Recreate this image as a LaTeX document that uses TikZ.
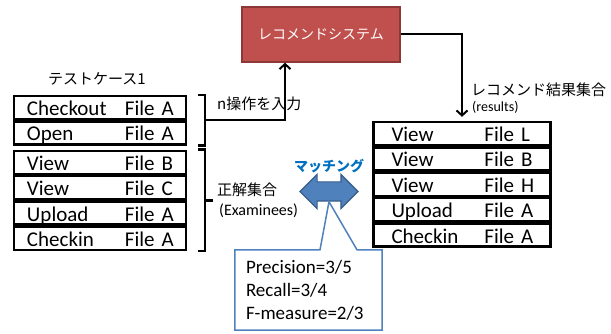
\documentclass[tikz,border=0pt]{standalone}
\usepackage{fontspec}
\setmainfont{Carlito}
\newfontfamily\jpfont{Noto Sans CJK JP}
\usepackage{tikz}
\usetikzlibrary{arrows,arrows.meta,positioning,shapes.arrows}

\definecolor{sysred}{RGB}{192,80,77}
\definecolor{sysredline}{RGB}{140,56,54}
\definecolor{matchblue}{RGB}{79,129,189}
\definecolor{matchline}{RGB}{56,93,138}
\definecolor{matchtext}{RGB}{0,112,192}

\newcommand{\fsz}[2]{\fontsize{#1}{#2}\selectfont}
\newcommand{\oprow}[3][98pt]{\makebox[#1][l]{#2}\makebox[0pt][l]{#3}}

\begin{document}
\begin{tikzpicture}[x=1pt,y=-1pt,>={Straight Barb[length=5pt,width=11pt]},node distance=0pt]
\tikzstyle{oprowL} = [draw,line width=2.4pt,minimum height=23pt,inner ysep=0pt,inner xsep=13pt,text width=146pt,text height=17pt,text depth=1pt,font=\fsz{21}{24}]
\tikzstyle{oprowR} = [oprowL,inner xsep=18pt,text width=141pt]
\tikzstyle{jplabel} = [font=\jpfont\fsz{15}{18},inner sep=0pt,anchor=west]
\tikzstyle{latinlabel} = [font=\fsz{16}{18},inner sep=0pt,anchor=west]
\tikzstyle{flow} = [->,line width=2pt]
\tikzstyle{bracket} = [line width=2.4pt]

\useasboundingbox (0,0) rectangle (611,334);

    % recommender
    \node[draw=sysredline,line width=1.5pt,fill=sysred,text=white,minimum width=158pt,minimum height=55pt,font=\jpfont\fsz{14}{16}] (sys) at (321,34.5) {レコメンドシステム};

    % test case
    \node[jplabel,anchor=center] (tc) at (97,79) {テストケース1};
    \node[oprowL] (t1) at (100,107.5) {\oprow{Checkout}{File A}};
    \node[oprowL,below=of t1] (t2) {\oprow{Open}{File A}};
    \node[oprowL,below=4pt of t2] (t3) {\oprow{View}{File B}};
    \node[oprowL,below=of t3] (t4) {\oprow{View}{File C}};
    \node[oprowL,below=of t4] (t5) {\oprow{Upload}{File A}};
    \node[oprowL,below=of t5] (t6) {\oprow{Checkin}{File A}};

    % brackets
    \coordinate (tip1) at ([xshift=26pt]t1.south east);
    \coordinate (tip2) at ([xshift=26pt]t4.south east);
    \draw[bracket] ([xshift=11pt]t1.north east) -| ([xshift=18pt]t2.south east) -- ([xshift=11pt]t2.south east);
    \draw[bracket] ([xshift=18pt]t1.south east) -- (tip1);
    \draw[bracket] ([xshift=11pt]t3.north east) -| ([xshift=18pt]t6.south east) -- ([xshift=11pt]t6.south east);
    \draw[bracket] ([xshift=18pt]t4.south east) -- (tip2);
    \node[jplabel] (inlbl) at (217,104) {n操作を入力};
    \node[jplabel] (ans) at (217,190) {正解集合};
    \node[latinlabel] (anslat) at (219,211) {(Examinees)};

    % recommended results
    \node[oprowR] (r1) at (462,133.5) {\oprow[93pt]{View}{File L}};
    \node[oprowR,below=of r1] (r2) {\oprow[93pt]{View}{File B}};
    \node[oprowR,below=of r2] (r3) {\oprow[93pt]{View}{File H}};
    \node[oprowR,below=of r3] (r4) {\oprow[93pt]{Upload}{File A}};
    \node[oprowR,below=of r4] (r5) {\oprow[93pt]{Checkin}{File A}};
    \node[jplabel] (reslbl) at (471,90) {レコメンド結果集合};
    \node[latinlabel,font=\fsz{14}{16}] (reslat) at (472,107) {(results)};

    \draw[flow] (tip1) -| ([xshift=-36pt]sys.south);
    \draw[flow,shorten >=4pt] (sys.east) -| (r1.north);

    % matching
    \node[double arrow,draw=matchline,fill=matchblue,line width=1.2pt,minimum height=58pt,inner xsep=0pt,inner ysep=9pt,double arrow head extend=7.5pt] (match) at (329,191.5) {};
    \node[font=\jpfont\bfseries\fsz{14}{16},text=matchtext,inner sep=0pt,above=8pt of match] (matchlbl) {マッチング};
    \node[minimum width=147pt,minimum height=80pt,inner xsep=11pt,text width=125pt,align=left,font=\fsz{19}{23}] (score) at (308.5,290) {Precision=3/5\\Recall=3/4\\F-measure=2/3};
    \draw[draw=matchblue,line width=1.5pt] (score.north west) -- ([xshift=11.5pt]score.north) -- (match.south) -- ([xshift=48.5pt]score.north) -- (score.north east) -- (score.south east) -- (score.south west) -- cycle;
\end{tikzpicture}
\end{document}
